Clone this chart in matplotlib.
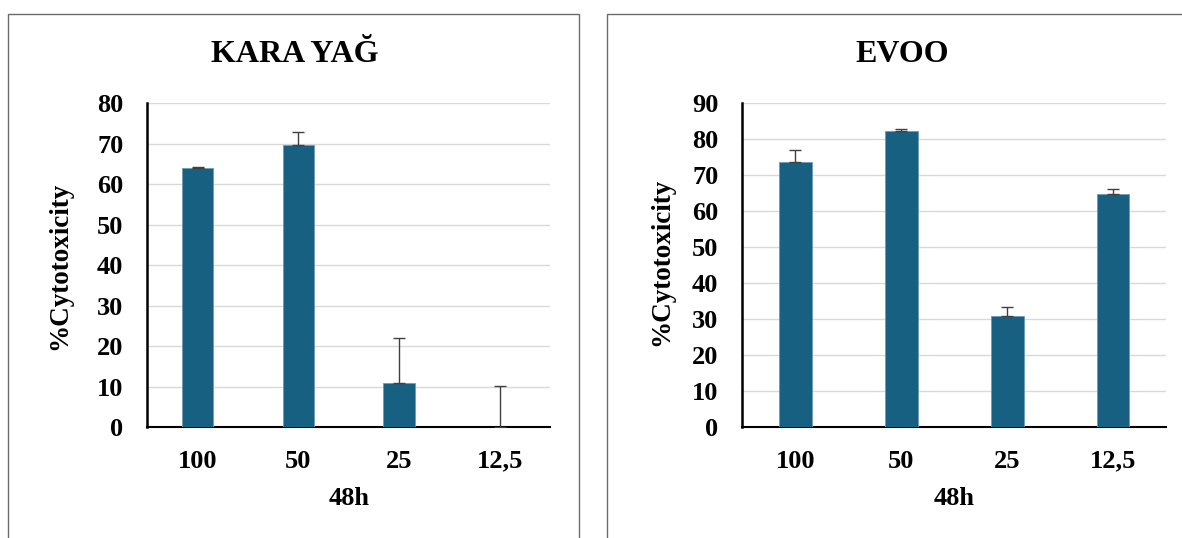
import matplotlib
matplotlib.use("Agg")
import matplotlib.pyplot as plt
from matplotlib.patches import Rectangle

plt.rcParams['font.family'] = ['Liberation Serif', 'DejaVu Serif']
plt.rcParams['font.weight'] = 'bold'

# Concentrations (48 h exposure)
categories = ["100", "50", "25", "12,5"]

kara_title = "KARA YAĞ"
kara_values = [64.0, 69.7, 11.0, 0.0]
kara_errors = [0.3, 3.1, 11.1, 10.1]
kara_ymax = 80

evoo_title = "EVOO"
evoo_values = [73.7, 82.4, 30.8, 64.9]
evoo_errors = [3.2, 0.4, 2.5, 1.3]
evoo_ymax = 90

x_label = "48h"
y_label = "%Cytotoxicity"

BAR_COLOR = "#176082"
EDGE_COLOR = "#6d9bb3"
ERR_COLOR = "#404040"
GRID_COLOR = "#d9d9d9"
FRAME_COLOR = "#6b6b6b"

W, H = 1182, 538
fig = plt.figure(figsize=(W / 100, H / 100), dpi=100)


def px_rect(x0, y0, x1, y1):
    """Convert a pixel box (top-left origin) into figure fractions."""
    return [x0 / W, 1 - y1 / H, (x1 - x0) / W, (y1 - y0) / H]


# Chart-area frames around each panel
for (x0, y0, x1, y1) in [(8, 14, 579, 560), (607, 14, 1200, 560)]:
    fig.patches.append(Rectangle((x0 / W, 1 - y1 / H), (x1 - x0) / W, (y1 - y0) / H,
                                 transform=fig.transFigure, fill=False,
                                 edgecolor=FRAME_COLOR, linewidth=1.0, clip_on=False))


def draw_panel(box, title, values, errors, ymax, title_xy, ylab_xy):
    ax = fig.add_axes(px_rect(*box))
    xs = range(len(categories))
    ax.bar(xs, values, width=0.31, color=BAR_COLOR, edgecolor=EDGE_COLOR,
           linewidth=0.6, zorder=3)
    ax.errorbar(xs, values, yerr=[[0] * len(errors), errors], fmt='none',
                ecolor=ERR_COLOR, elinewidth=1.0, capsize=4.3, capthick=1.0, zorder=4)
    ax.set_xlim(-0.5, len(categories) - 0.5)
    ax.set_ylim(0, ymax)
    ax.set_yticks(range(0, ymax + 1, 10))
    ax.set_xticks(list(xs))
    ax.set_xticklabels(categories)
    ax.tick_params(axis='both', length=0, labelsize=19)
    ax.tick_params(axis='x', pad=16)
    ax.tick_params(axis='y', pad=17.3)
    for lbl in ax.get_xticklabels() + ax.get_yticklabels():
        lbl.set_fontweight('bold')
    ax.yaxis.grid(True, color=GRID_COLOR, linewidth=1.0, zorder=0)
    ax.set_axisbelow(True)
    for s in ('top', 'right'):
        ax.spines[s].set_visible(False)
    ax.spines['left'].set_linewidth(1.8)
    ax.spines['bottom'].set_linewidth(1.5)
    ax.spines['left'].set_color('black')
    ax.spines['bottom'].set_color('black')
    ax.set_xlabel(x_label, fontsize=19, fontweight='bold', labelpad=10.5)
    fig.text(title_xy[0] / W, 1 - title_xy[1] / H, title, fontsize=23,
             fontweight='bold', ha='center', va='baseline')
    fig.text(ylab_xy[0] / W, 1 - ylab_xy[1] / H, y_label, fontsize=19.5,
             fontweight='bold', ha='center', va='center', rotation=90)
    return ax


draw_panel((147.3, 103.3, 550, 427.3), kara_title, kara_values, kara_errors,
           kara_ymax, (295, 62.3), (60, 266))
draw_panel((742.3, 103.3, 1166, 427.3), evoo_title, evoo_values, evoo_errors,
           evoo_ymax, (902.5, 62), (662, 262))

fig.savefig("out.png", dpi=100)
